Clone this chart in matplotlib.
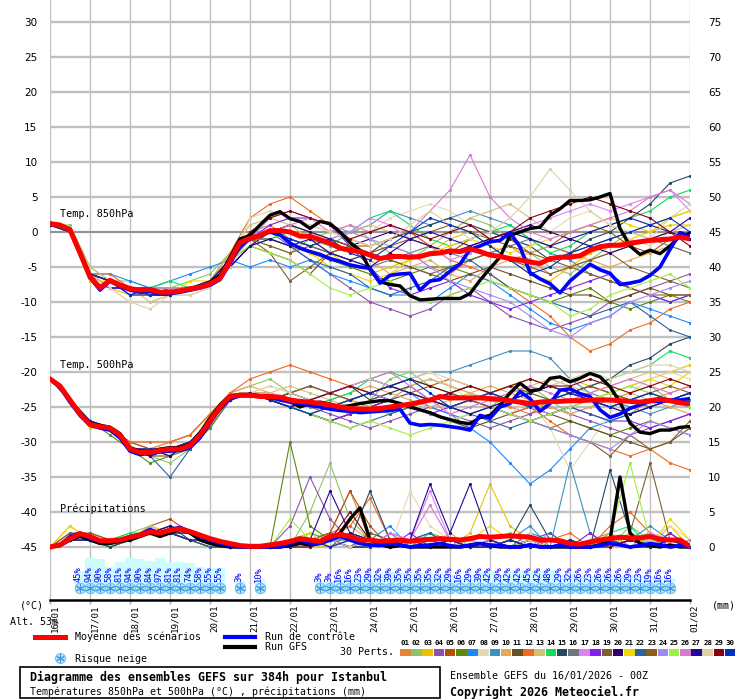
import matplotlib
matplotlib.use("Agg")
import matplotlib.pyplot as plt
from matplotlib.patches import Rectangle

plt.rcParams["axes.unicode_minus"] = False
MONO = "DejaVu Sans Mono"

# forecast hours (6h for mean / control / GFS, 12h for the perturbations)
hours6 = list(range(0, 385, 6))
hours12 = list(range(0, 385, 12))
day_hours = list(range(0, 385, 24))
day_labels = ["16/01", "17/01", "18/01", "19/01", "20/01", "21/01", "22/01", "23/01", "24/01",
              "25/01", "26/01", "27/01", "28/01", "29/01", "30/01", "31/01", "01/02"]

pert_colors = ["#e8843a", "#8cc46c", "#f0c000", "#9050b0", "#b4500c", "#5a8a08", "#1e88ff", "#e8d8b0",
               "#3f8fc0", "#e8a858", "#6a5020", "#f06a20", "#d0c078", "#10dc60", "#284860", "#6c7880",
               "#e080f8", "#8020f0", "#806030", "#300070", "#f0d800", "#2a64a0", "#905c20", "#a08cf0",
               "#a0f040", "#d878d0", "#200898", "#e0d0a8", "#880010", "#0030c0"]

t850_mean = [1.2, 1.0, 0.3, -3.0, -6.4, -8.0, -6.9, -7.6, -8.1, -8.3,
             -8.2, -8.6, -8.6, -8.4, -8.1, -7.9, -7.4, -6.6, -4.1, -1.5,
             -0.9, -0.5, 0.2, 0.2, 0.0, -0.6, -0.6, -1.1, -1.6, -2.3,
             -2.6, -2.8, -3.3, -3.8, -3.5, -3.5, -3.6, -3.5, -3.1, -3.0,
             -2.7, -2.8, -2.4, -2.8, -3.3, -3.5, -3.8, -4.0, -4.3, -4.5,
             -3.8, -3.6, -3.6, -3.4, -2.6, -2.1, -1.9, -1.9, -1.6, -1.4,
             -1.2, -1.1, -1.0, -0.7, -1.0]
t850_ctrl = [1.2, 1.0, 0.3, -3.0, -6.5, -8.3, -7.0, -7.8, -8.3, -8.6,
             -8.5, -8.8, -8.8, -8.6, -8.3, -8.0, -7.6, -6.8, -4.5, -2.0,
             -1.0, -0.5, 0.0, -0.4, -1.6, -2.3, -2.8, -3.2, -3.8, -4.2,
             -4.7, -5.0, -5.2, -7.3, -6.2, -6.0, -5.9, -8.3, -7.0, -6.8,
             -5.6, -4.6, -2.5, -2.0, -1.4, -1.2, -0.1, -2.1, -5.8, -6.7,
             -7.4, -8.7, -7.0, -5.8, -4.6, -5.4, -5.9, -7.5, -7.3, -7.0,
             -6.2, -5.0, -2.5, -0.1, -0.6]
t850_gfs = [1.2, 1.0, 0.4, -2.8, -6.2, -8.0, -7.0, -7.5, -8.0, -8.4,
            -8.4, -8.7, -8.6, -8.5, -8.2, -7.8, -7.2, -6.2, -3.6, -1.0,
            -0.5, 1.0, 2.4, 2.9, 1.9, 1.5, 0.5, 1.5, 1.2, 0.0,
            -1.5, -2.6, -5.4, -7.1, -7.5, -7.7, -9.1, -9.7, -9.6, -9.5,
            -9.5, -9.5, -8.8, -6.9, -5.2, -3.6, -0.5, 0.0, 0.5, 0.7,
            2.4, 3.3, 4.5, 4.5, 4.6, 5.0, 5.5, 0.5, -2.0, -3.2,
            -2.6, -3.1, -2.0, -0.6, -0.2]

t500_mean = [-21.0, -22.0, -24.0, -26.0, -27.5, -27.8, -28.0, -29.0, -31.0, -31.5,
             -31.5, -31.2, -31.0, -31.0, -30.5, -29.0, -27.0, -25.0, -23.5, -23.3,
             -23.3, -23.5, -23.5, -23.6, -24.0, -24.2, -24.3, -24.5, -24.7, -25.0,
             -25.2, -25.3, -25.3, -25.2, -25.0, -24.8, -24.6, -24.3, -24.0, -23.5,
             -23.7, -23.7, -23.7, -23.7, -23.8, -23.9, -24.1, -24.3, -24.5, -24.3,
             -24.2, -24.2, -24.1, -24.1, -24.0, -24.0, -24.0, -24.1, -24.2, -24.3,
             -24.1, -23.9, -24.1, -24.4, -24.5]
t500_ctrl = [-21.0, -22.2, -24.3, -26.2, -27.6, -28.0, -28.3, -29.4, -31.3, -31.8,
             -31.6, -31.4, -31.3, -31.2, -30.8, -29.4, -27.3, -25.2, -23.8, -23.4,
             -23.4, -23.5, -23.6, -24.0, -24.3, -24.5, -24.8, -25.0, -25.3, -25.5,
             -25.6, -25.8, -25.7, -25.6, -25.5, -25.3, -27.3, -27.6, -27.5, -27.6,
             -27.8, -28.0, -28.3, -26.2, -26.6, -25.0, -24.5, -22.8, -23.8, -25.6,
             -24.5, -22.6, -22.4, -23.1, -23.5, -25.4, -26.5, -26.0, -25.2, -24.7,
             -24.2, -24.2, -24.0, -24.0, -23.8]
t500_gfs = [-21.0, -22.1, -24.1, -25.8, -27.3, -27.6, -27.9, -28.8, -30.8, -31.3,
            -31.4, -31.0, -30.8, -30.8, -30.3, -28.7, -26.6, -24.7, -23.4, -23.2,
            -23.2, -23.4, -23.5, -23.8, -24.2, -25.0, -24.5, -24.3, -24.6, -25.0,
            -24.8, -24.5, -24.3, -24.1, -24.1, -24.5, -25.0, -25.4, -25.8, -26.4,
            -26.8, -27.2, -27.4, -26.5, -26.2, -24.8, -23.0, -21.6, -22.7, -22.5,
            -20.9, -20.7, -21.4, -20.9, -20.2, -20.7, -22.1, -24.3, -27.3, -28.6,
            -28.8, -28.3, -28.3, -27.9, -27.8]

rr_mean = [0.0, 0.3, 1.2, 1.9, 1.5, 0.9, 0.9, 1.0, 1.4, 1.7,
           2.2, 2.0, 2.4, 2.6, 2.2, 1.7, 1.2, 0.8, 0.5, 0.2,
           0.1, 0.1, 0.3, 0.5, 0.8, 1.2, 1.0, 0.8, 1.5, 1.8,
           1.5, 1.0, 1.0, 0.8, 0.9, 1.0, 0.8, 1.0, 1.1, 1.2,
           1.1, 1.0, 1.2, 1.5, 1.4, 1.5, 1.6, 1.5, 1.4, 1.0,
           1.0, 0.9, 0.5, 0.4, 0.7, 1.0, 1.2, 1.4, 1.3, 1.3,
           1.5, 1.1, 1.0, 1.0, 0.1]
rr_ctrl = [0.0, 0.3, 1.5, 2.0, 1.2, 0.8, 0.8, 1.0, 1.5, 1.8,
           2.5, 2.0, 2.5, 2.8, 2.2, 1.5, 1.0, 0.5, 0.2, 0.0,
           0.0, 0.0, 0.0, 0.0, 0.5, 1.0, 0.5, 0.5, 1.0, 1.5,
           1.0, 0.5, 0.3, 0.2, 0.5, 0.3, 0.0, 0.2, 0.3, 0.5,
           0.2, 0.0, 0.3, 0.5, 0.3, 0.2, 0.0, 0.0, 0.3, 0.0,
           0.0, 0.2, 0.0, 0.0, 0.0, 0.2, 0.5, 0.3, 0.0, 0.2,
           0.5, 0.3, 0.0, 0.2, 0.0]
rr_gfs = [0.0, 0.2, 1.0, 1.5, 1.0, 0.5, 0.5, 0.8, 1.0, 1.5,
          2.0, 1.5, 2.0, 2.5, 2.0, 1.0, 0.5, 0.2, 0.0, 0.0,
          0.0, 0.0, 0.0, 0.0, 0.2, 0.5, 0.3, 0.5, 1.0, 2.0,
          4.0, 5.6, 1.0, 0.3, 0.0, 0.2, 0.0, 0.0, 0.0, 0.0,
          0.0, 0.0, 0.2, 0.5, 0.2, 0.0, 0.0, 0.0, 0.3, 0.0,
          0.0, 0.0, 0.0, 0.0, 0.0, 0.3, 1.0, 10.0, 2.0, 0.5,
          0.2, 0.0, 0.3, 0.0, 0.0]

# snow risk (%) every 6h
snow_pct = [0, 0, 0, 45, 94, 90, 58, 81, 94, 90, 84, 97, 81, 81, 74, 58, 55, 55, 0, 3, 0, 10,
            0, 0, 0, 0, 0, 3, 3, 16, 16, 23, 29, 32, 39, 35, 35, 35, 35, 32, 29, 16, 29, 39, 42,
            29, 42, 42, 45, 42, 48, 29, 32, 26, 23, 26, 26, 26, 29, 23, 19, 16, 16, 0, 0]

t850_perts = [
    [1, 0, -6, -7, -8, -9, -9, -8, -7, -3, 0, 1, -1, -2, -3, -4, -3, -2, -3, -5, -6, -4, -3, -2, -4, -6, -5, -4, -3, -2, -1, 0, 1],
    [1, 1, -5, -7, -7, -8, -8, -7, -6, -3, -1, -2, -3, -1, 0, 1, -1, -3, -4, -2, 0, 2, 1, -1, -3, -5, -6, -4, -2, 0, 1, 2, 3],
    [1, 0, -6, -8, -9, -9, -9, -8, -7, -4, -1, 0, 1, -1, -3, -5, -6, -5, -4, -3, -1, 0, -2, -4, -6, -7, -5, -3, -2, -1, 0, 1, 1],
    [1, 0, -7, -8, -8, -9, -9, -8, -7, -4, -1, 0, -2, -4, -6, -8, -10, -11, -12, -11, -9, -8, -10, -12, -13, -14, -13, -12, -10, -9, -8, -7, -6],
    [1, 0, -6, -7, -8, -8, -9, -8, -7, -4, -1, 0, 1, 0, -1, -2, -2, -1, 0, -2, -3, -1, 0, -1, -3, -2, 0, 1, 0, -2, -3, -1, 0],
    [1, 0, -6, -7, -8, -9, -8, -8, -7, -4, -1, -1, -2, -3, -4, -5, -6, -7, -6, -5, -5, -6, -7, -8, -9, -10, -9, -8, -10, -11, -10, -9, -10],
    [1, 0, -6, -6, -7, -8, -7, -6, -5, -4, -5, -4, -5, -4, -6, -7, -8, -9, -9, -10, -8, -6, -7, -9, -11, -13, -14, -13, -12, -10, -11, -12, -13],
    [1, 0, -6, -8, -10, -10, -9, -9, -8, -5, -1, 1, 2, 1, 0, -1, 0, 2, 3, 4, 3, 1, 0, -1, -2, 0, 2, 3, 1, -1, -2, 0, 1],
    [1, 0, -6, -7, -8, -8, -8, -8, -7, -4, -1, 0, -1, -2, -1, 0, 1, 3, 2, 1, 2, 3, 2, 1, -1, -3, -4, -6, -7, -8, -9, -10, -9],
    [1, 0, -6, -7, -9, -9, -9, -8, -7, -4, -2, -1, 0, -1, -2, -3, -4, -6, -5, -4, -6, -7, -5, -4, -3, -2, -3, -4, -5, -4, -3, -2, -3],
    [1, 0, -6, -7, -8, -8, -9, -8, -7, -5, -2, -3, -4, -6, -3, -2, -3, -4, -5, -6, -7, -6, -5, -6, -7, -8, -9, -9, -10, -9, -8, -9, -9],
    [1, 0, -6, -6, -8, -8, -9, -8, -7, -3, 2, 4, 5, 3, 1, -1, -2, -1, 0, -2, -4, -5, -6, -8, -10, -12, -15, -17, -16, -14, -13, -11, -10],
    [1, 0, -5, -7, -8, -10, -9, -8, -7, -3, 1, 2, 1, 0, -1, 0, 1, 0, -1, -2, 0, 2, 3, 4, 2, 0, -1, -2, -1, 0, 1, 2, 3],
    [1, 0, -6, -7, -8, -8, -7, -8, -7, -4, -2, -1, 0, -1, -2, 0, 2, 3, 1, -1, -2, -1, 0, 1, -1, -3, -2, 0, 1, 2, 3, 5, 6],
    [1, 0, -6, -7, -8, -8, -9, -8, -7, -4, -1, 0, -1, -2, -3, -4, -3, -1, 0, 1, 2, 1, 0, -1, -2, -4, -3, -1, 0, 2, 4, 7, 8],
    [1, 0, -6, -7, -8, -9, -8, -8, -7, -4, -1, 0, -1, -2, -3, -4, -5, -4, -3, -2, -3, -4, -3, -2, -1, -2, -3, -2, -1, 0, -1, -2, -3],
    [1, 0, -6, -7, -8, -8, -8, -8, -7, -4, -1, 0, 0, -1, -1, 0, 2, 1, -1, -2, -4, -3, -1, 0, 1, 2, 3, 4, 3, 4, 5, 6, 3],
    [1, 0, -7, -8, -8, -9, -9, -8, -7, -4, -1, 1, 2, 2, 1, -2, -5, -8, -9, -8, -7, -9, -10, -11, -10, -9, -8, -7, -6, -8, -9, -10, -9],
    [1, 0, -6, -7, -8, -8, -9, -8, -7, -4, -1, -3, -7, -5, -3, -2, -3, -4, -5, -6, -5, -4, -3, -4, -5, -6, -5, -4, -3, -5, -6, -7, -8],
    [1, 0, -6, -8, -8, -9, -9, -8, -7, -5, -2, 0, 1, 0, -1, -2, -1, 0, -1, -2, -3, -2, -1, 0, 1, 0, -1, -2, -3, -2, -1, 0, -1],
    [1, 0, -7, -7, -8, -8, -9, -7, -7, -4, -1, -1, -2, -3, -5, -6, -7, -6, -4, -3, -2, -1, -2, -3, -2, -1, 0, 1, 2, 1, 0, 2, 3],
    [1, 0, -6, -7, -8, -8, -8, -8, -7, -4, -1, -1, -2, -4, -5, -6, -8, -9, -8, -7, -5, -4, -6, -8, -9, -10, -11, -12, -11, -10, -12, -14, -15],
    [1, 0, -6, -7, -8, -9, -8, -8, -7, -4, -1, -2, -3, -2, -1, -2, -3, -2, -1, 0, 1, 0, -1, -2, -3, -4, -5, -6, -7, -8, -9, -9, -9],
    [1, 0, -6, -7, -8, -8, -8, -8, -7, -4, -1, 2, 3, 2, 1, 0, -1, -2, -3, -5, -7, -8, -9, -10, -12, -14, -15, -13, -12, -10, -9, -8, -7],
    [1, 0, -6, -7, -8, -8, -8, -8, -7, -4, -2, -3, -4, -6, -8, -9, -8, -7, -9, -10, -9, -8, -7, -8, -9, -10, -12, -11, -9, -8, -7, -6, -8],
    [1, 0, -6, -7, -8, -8, -8, -8, -7, -4, -1, 0, 1, 2, 0, 1, 0, 1, 0, 3, 6, 11, 5, 2, 0, -1, 0, 1, 2, 3, 5, 6, 4],
    [1, 0, -6, -7, -9, -8, -9, -8, -7, -5, -2, -1, -2, -1, -3, -4, -5, -3, -1, 0, -1, -2, -1, 0, -1, -2, -1, 0, 1, 2, 1, 0, 2],
    [1, 0, -6, -8, -10, -11, -9, -9, -8, -5, 2, 3, 2, 1, 0, -1, -2, -1, 1, 3, 1, -1, 0, 2, 5, 9, 6, 3, 1, 0, -1, 2, 4],
    [1, 0, -6, -7, -8, -8, -9, -8, -7, -4, 0, 2, 3, 2, 1, -1, 0, 1, 0, -1, 0, 1, -1, 0, 2, 3, 4, 5, 4, 3, 2, 0, -2],
    [1, 0, -6, -7, -9, -9, -9, -8, -7, -4, -1, 0, -1, -2, -1, -3, -4, -2, 0, 2, 1, 0, -2, -4, -6, -5, -3, -2, -1, 0, 1, 2, 0],
]

t500_perts = [
    [-21, -24, -27, -28, -30, -31, -31, -30, -27, -24, -23, -24, -25, -24, -25, -26, -25, -24, -22, -21, -22, -23, -24, -25, -26, -24, -23, -24, -25, -26, -24, -23, -22],
    [-21, -24, -27, -28, -31, -32, -33, -31, -26, -23, -22, -21, -23, -24, -25, -26, -24, -21, -20, -22, -23, -24, -25, -23, -22, -24, -26, -25, -24, -23, -22, -24, -25],
    [-21, -24, -28, -28, -31, -31, -32, -30, -27, -24, -23, -24, -25, -26, -27, -26, -25, -24, -23, -24, -25, -26, -25, -24, -23, -22, -21, -22, -23, -22, -21, -20, -19],
    [-21, -24, -27, -28, -31, -32, -31, -30, -28, -24, -23, -23, -24, -25, -26, -27, -28, -27, -26, -25, -26, -27, -28, -27, -26, -25, -26, -27, -28, -29, -28, -27, -26],
    [-21, -24, -27, -28, -30, -31, -30, -29, -26, -24, -23, -24, -23, -22, -23, -24, -25, -24, -23, -22, -21, -22, -23, -24, -25, -24, -23, -22, -23, -24, -25, -24, -23],
    [-21, -24, -27, -29, -31, -33, -32, -31, -28, -24, -23, -24, -25, -26, -25, -24, -23, -22, -23, -24, -25, -24, -25, -26, -27, -28, -27, -28, -29, -28, -27, -28, -29],
    [-21, -24, -27, -28, -31, -31, -31, -30, -27, -24, -23, -24, -25, -26, -27, -26, -25, -24, -23, -25, -26, -28, -30, -33, -36, -34, -31, -28, -27, -26, -25, -24, -25],
    [-21, -24, -27, -28, -31, -32, -31, -30, -27, -24, -23, -22, -23, -24, -25, -24, -23, -22, -21, -20, -22, -24, -25, -26, -24, -28, -34, -30, -26, -23, -21, -20, -21],
    [-21, -24, -27, -28, -31, -31, -31, -30, -27, -24, -23, -24, -23, -22, -23, -24, -23, -22, -21, -20, -20, -19, -18, -17, -17, -18, -21, -23, -24, -25, -26, -25, -24],
    [-21, -24, -27, -28, -31, -31, -30, -29, -26, -23, -22, -23, -24, -25, -24, -23, -22, -23, -24, -25, -24, -23, -22, -23, -24, -25, -26, -25, -24, -23, -24, -25, -26],
    [-21, -24, -27, -28, -31, -32, -32, -30, -27, -24, -23, -24, -25, -26, -27, -26, -25, -24, -25, -26, -27, -28, -27, -26, -25, -26, -27, -28, -29, -30, -31, -30, -28],
    [-21, -24, -27, -28, -30, -30, -30, -29, -26, -23, -21, -20, -19, -20, -21, -22, -23, -24, -25, -24, -23, -24, -25, -26, -25, -27, -29, -30, -31, -32, -31, -33, -34],
    [-21, -24, -27, -28, -31, -31, -31, -30, -27, -24, -23, -23, -22, -23, -24, -25, -24, -23, -22, -21, -22, -23, -24, -23, -22, -21, -22, -23, -22, -21, -20, -21, -22],
    [-21, -24, -27, -28, -31, -31, -31, -30, -27, -24, -23, -24, -24, -25, -24, -23, -21, -20, -21, -22, -23, -24, -23, -22, -23, -24, -23, -22, -21, -20, -19, -17, -18],
    [-21, -24, -27, -28, -31, -32, -31, -30, -27, -24, -23, -24, -25, -24, -23, -22, -24, -23, -22, -24, -25, -24, -23, -22, -21, -22, -23, -22, -21, -19, -18, -16, -15],
    [-21, -24, -27, -28, -31, -31, -31, -30, -27, -24, -23, -24, -25, -26, -25, -24, -25, -26, -25, -24, -25, -26, -25, -24, -25, -26, -25, -24, -23, -24, -25, -24, -25],
    [-21, -24, -27, -28, -31, -31, -31, -30, -27, -24, -23, -24, -25, -24, -23, -22, -21, -22, -23, -24, -25, -26, -25, -24, -25, -26, -25, -24, -23, -22, -23, -24, -23],
    [-21, -24, -27, -28, -31, -32, -31, -30, -27, -24, -23, -24, -25, -26, -27, -26, -25, -24, -25, -26, -25, -24, -25, -26, -27, -26, -25, -26, -27, -27, -28, -27, -26],
    [-21, -24, -27, -28, -31, -31, -31, -30, -27, -24, -23, -24, -25, -24, -23, -22, -23, -24, -25, -24, -23, -24, -25, -26, -27, -28, -29, -30, -32, -29, -31, -30, -27],
    [-21, -24, -27, -28, -31, -31, -32, -30, -27, -24, -23, -24, -23, -24, -25, -24, -23, -24, -25, -24, -23, -22, -23, -24, -23, -22, -23, -24, -25, -24, -23, -24, -25],
    [-21, -24, -27, -28, -31, -31, -31, -30, -27, -24, -23, -24, -25, -26, -25, -24, -25, -26, -25, -24, -25, -24, -23, -22, -21, -22, -23, -24, -23, -22, -21, -22, -20],
    [-21, -24, -27, -28, -31, -32, -35, -31, -27, -24, -23, -24, -25, -26, -27, -28, -27, -26, -25, -24, -25, -26, -27, -28, -27, -26, -25, -26, -27, -26, -25, -24, -23],
    [-21, -24, -27, -28, -31, -31, -31, -30, -27, -24, -23, -24, -23, -22, -23, -24, -23, -22, -23, -24, -25, -24, -23, -22, -23, -24, -23, -22, -23, -24, -23, -22, -23],
    [-21, -24, -27, -28, -31, -31, -31, -30, -27, -24, -23, -24, -25, -24, -23, -22, -23, -24, -25, -26, -27, -26, -25, -26, -27, -28, -29, -30, -31, -29, -27, -28, -29],
    [-21, -24, -27, -28, -31, -31, -31, -30, -27, -24, -23, -24, -25, -26, -27, -28, -27, -28, -29, -28, -27, -26, -25, -26, -27, -26, -25, -24, -23, -22, -23, -24, -25],
    [-21, -24, -27, -28, -31, -31, -31, -30, -27, -24, -23, -24, -25, -24, -23, -22, -21, -20, -22, -24, -26, -25, -24, -23, -22, -23, -24, -23, -22, -21, -22, -23, -22],
    [-21, -24, -27, -28, -31, -32, -31, -30, -27, -24, -23, -24, -25, -24, -23, -22, -21, -22, -23, -24, -25, -26, -25, -24, -23, -22, -23, -24, -25, -26, -25, -24, -23],
    [-21, -24, -27, -28, -31, -31, -31, -30, -27, -24, -23, -22, -23, -24, -23, -22, -21, -22, -21, -20, -21, -22, -23, -22, -21, -22, -21, -20, -21, -20, -19, -19, -20],
    [-21, -24, -27, -28, -31, -31, -31, -30, -27, -24, -23, -24, -25, -24, -23, -22, -23, -22, -21, -22, -23, -22, -23, -22, -21, -22, -22, -21, -22, -23, -22, -21, -22],
    [-21, -24, -27, -28, -31, -31, -31, -30, -27, -24, -23, -24, -25, -26, -25, -24, -23, -22, -21, -23, -25, -24, -23, -24, -25, -24, -23, -24, -25, -24, -23, -24, -23],
]

rr_perts = [
    [0, 1, 1, 0, 1, 2, 2, 1, 1, 0, 0, 0, 1, 0, 2, 8, 1, 0, 0, 1, 0, 0, 0, 1, 0, 0, 0, 1, 2, 0, 0, 1, 0],
    [0, 2, 1, 1, 2, 3, 2, 1, 0, 0, 0, 0, 0, 5, 12, 4, 1, 0, 1, 0, 0, 0, 1, 2, 0, 0, 0, 1, 0, 3, 1, 0, 0],
    [0, 3, 1, 1, 1, 2, 3, 2, 1, 0, 0, 0, 1, 0, 0, 1, 2, 1, 0, 0, 0, 2, 9, 3, 1, 0, 0, 1, 0, 1, 0, 3, 0],
    [0, 1, 2, 1, 1, 2, 2, 1, 1, 0, 0, 0, 3, 10, 4, 1, 0, 0, 1, 2, 0, 1, 0, 0, 1, 0, 0, 1, 0, 2, 1, 1, 0],
    [0, 1, 1, 1, 1, 3, 4, 2, 1, 0, 0, 0, 0, 1, 2, 8, 3, 0, 0, 1, 0, 0, 0, 0, 1, 0, 1, 0, 2, 0, 1, 0, 0],
    [0, 1, 1, 0, 1, 2, 2, 1, 0, 0, 0, 0, 15, 3, 1, 0, 0, 1, 0, 0, 0, 1, 0, 0, 0, 1, 0, 0, 0, 1, 2, 0, 0],
    [0, 1, 1, 1, 1, 2, 2, 1, 1, 0, 0, 0, 0, 0, 1, 2, 1, 3, 0, 1, 0, 0, 1, 0, 2, 1, 0, 0, 1, 0, 0, 1, 0],
    [0, 2, 1, 1, 1, 2, 3, 2, 1, 0, 0, 0, 0, 1, 0, 2, 1, 0, 8, 3, 1, 0, 0, 1, 2, 0, 1, 0, 0, 2, 1, 3, 1],
    [0, 1, 1, 0, 1, 2, 2, 1, 1, 0, 0, 0, 0, 0, 1, 1, 0, 2, 0, 1, 0, 1, 0, 1, 3, 0, 12, 2, 0, 1, 3, 1, 0],
    [0, 1, 2, 1, 1, 2, 3, 2, 1, 0, 0, 0, 0, 2, 1, 3, 1, 0, 1, 0, 2, 0, 1, 0, 0, 1, 0, 0, 2, 0, 1, 0, 1],
    [0, 1, 1, 1, 1, 2, 2, 1, 0, 0, 0, 0, 1, 0, 1, 0, 2, 1, 0, 0, 1, 0, 0, 1, 0, 0, 1, 0, 0, 1, 0, 2, 0],
    [0, 2, 1, 1, 1, 2, 2, 2, 1, 0, 0, 0, 0, 1, 2, 3, 7, 1, 0, 1, 0, 0, 1, 0, 0, 1, 2, 0, 3, 5, 2, 1, 0],
    [0, 1, 1, 1, 1, 3, 2, 1, 1, 0, 0, 0, 0, 0, 1, 2, 1, 0, 0, 1, 0, 1, 0, 0, 1, 0, 0, 1, 0, 0, 1, 0, 0],
    [0, 1, 1, 1, 2, 2, 2, 1, 1, 0, 0, 0, 1, 2, 1, 0, 0, 1, 0, 2, 1, 0, 0, 1, 0, 0, 1, 0, 2, 3, 0, 1, 0],
    [0, 1, 1, 0, 1, 2, 3, 1, 1, 0, 0, 0, 0, 1, 0, 1, 8, 1, 0, 0, 1, 0, 0, 1, 6, 1, 0, 0, 11, 2, 0, 1, 0],
    [0, 1, 1, 1, 1, 2, 2, 1, 1, 0, 0, 0, 0, 0, 1, 0, 1, 0, 0, 1, 0, 0, 1, 0, 0, 0, 1, 0, 0, 1, 0, 0, 0],
    [0, 1, 1, 1, 1, 2, 3, 2, 1, 0, 0, 0, 0, 1, 0, 1, 0, 2, 1, 8, 1, 0, 0, 1, 0, 2, 0, 1, 0, 0, 2, 1, 0],
    [0, 1, 1, 1, 1, 2, 2, 1, 1, 0, 0, 0, 0, 0, 1, 0, 1, 0, 2, 0, 1, 0, 1, 0, 0, 1, 0, 2, 0, 1, 0, 2, 0],
    [0, 2, 2, 1, 1, 2, 2, 1, 1, 0, 0, 0, 0, 1, 2, 1, 0, 0, 1, 0, 0, 1, 0, 0, 1, 0, 0, 1, 0, 2, 12, 1, 0],
    [0, 1, 1, 1, 1, 2, 2, 2, 1, 0, 0, 0, 0, 0, 1, 0, 0, 1, 0, 0, 1, 0, 0, 0, 1, 0, 0, 0, 1, 0, 0, 1, 0],
    [0, 3, 1, 1, 1, 2, 2, 1, 1, 0, 0, 0, 1, 2, 0, 1, 0, 0, 1, 0, 0, 1, 3, 1, 0, 0, 1, 0, 0, 2, 0, 4, 1],
    [0, 1, 1, 1, 1, 2, 2, 1, 0, 0, 0, 0, 0, 0, 1, 0, 1, 0, 1, 2, 0, 1, 0, 0, 1, 2, 0, 0, 1, 0, 1, 0, 0],
    [0, 1, 1, 1, 1, 2, 3, 2, 1, 0, 0, 0, 0, 1, 0, 2, 1, 0, 1, 0, 1, 0, 0, 1, 0, 0, 1, 0, 1, 0, 1, 0, 0],
    [0, 1, 1, 1, 1, 2, 2, 1, 1, 0, 0, 0, 0, 1, 0, 1, 0, 1, 0, 0, 1, 0, 0, 0, 1, 0, 0, 1, 0, 0, 1, 0, 1],
    [0, 1, 1, 1, 1, 2, 2, 1, 1, 0, 0, 0, 4, 1, 0, 1, 0, 0, 1, 0, 0, 1, 0, 0, 1, 0, 1, 0, 2, 12, 1, 0, 0],
    [0, 1, 1, 1, 1, 2, 2, 1, 1, 0, 0, 0, 0, 1, 0, 1, 0, 2, 1, 6, 1, 0, 1, 0, 0, 1, 0, 0, 1, 0, 0, 1, 0],
    [0, 1, 1, 1, 1, 2, 3, 2, 1, 0, 0, 0, 0, 1, 8, 2, 1, 0, 1, 9, 2, 9, 1, 0, 1, 0, 0, 1, 0, 1, 0, 0, 0],
    [0, 1, 1, 1, 1, 2, 2, 1, 1, 0, 0, 0, 0, 0, 1, 0, 1, 0, 1, 0, 0, 1, 0, 0, 1, 0, 0, 1, 0, 0, 1, 0, 0],
    [0, 1, 1, 1, 1, 2, 2, 1, 1, 0, 0, 0, 0, 0, 1, 5, 1, 0, 1, 0, 1, 0, 0, 1, 0, 0, 1, 0, 0, 1, 0, 1, 0],
    [0, 1, 1, 1, 1, 2, 2, 1, 1, 0, 0, 0, 0, 1, 0, 1, 0, 1, 0, 0, 1, 0, 0, 1, 0, 0, 1, 0, 1, 0, 0, 1, 0],
]


def flake(axis, xs, ys, size=1.0):
    axis.scatter(xs, ys, s=58 * size, color="#b4e2f8", edgecolors="#62b4ea", linewidths=0.6, zorder=6)
    axis.scatter(xs, ys, s=36 * size, marker=(6, 2, 0), color="#3a9be0", linewidths=0.7, zorder=7)


def main() -> None:
    fig = plt.figure(figsize=(7.4, 7.0), dpi=100)

    # overlay in pixel coordinates for the legend and captions
    ov = fig.add_axes([0, 0, 1, 1])
    ov.set_xlim(0, 740)
    ov.set_ylim(700, 0)
    ov.axis("off")

    ax = fig.add_axes([50 / 740, 100 / 700, 640 / 740, 600 / 700])
    ymin, ymax = -52.57, 33.14
    ax.set_xlim(0, 384)
    ax.set_ylim(ymin, ymax)
    ax2 = ax.twinx()
    ax2.set_ylim(ymin + 45, ymax + 45)

    ax.set_xticks(day_hours)
    ax.set_xticklabels(day_labels, rotation=90, ha="left", family=MONO, fontsize=6.6)
    ax.set_yticks(range(-45, 31, 5))
    ax2.set_yticks(range(0, 76, 5))
    ax.set_axisbelow(True)
    ax.xaxis.grid(True, color="#c0c0c0", lw=1.0)
    ax.yaxis.grid(True, color="#c0c0c0", lw=1.7)
    ax.axhline(0, color="#8c8c8c", lw=1.2, zorder=1)
    ax.tick_params(axis="y", length=0, pad=9, labelsize=7.5)
    ax2.tick_params(axis="y", length=0, pad=13, labelsize=7.5)
    ax.tick_params(axis="x", length=3, width=1, color="#b0b0b0", pad=0.5)
    for s in ["top", "left", "right"]:
        ax.spines[s].set_visible(False)
    for s in ax2.spines.values():
        s.set_visible(False)
    ax.spines["bottom"].set_linewidth(1.8)

    # perturbations
    for i in range(30):
        kw = dict(color=pert_colors[i], lw=0.8, marker=".", ms=2.5, zorder=2)
        ax.plot(hours12, t850_perts[i], **kw)
        ax.plot(hours12, t500_perts[i], **kw)
        ax2.plot(hours12, rr_perts[i], **kw)

    for axis, gfs, ctrl, mean in [(ax, t850_gfs, t850_ctrl, t850_mean),
                                  (ax, t500_gfs, t500_ctrl, t500_mean),
                                  (ax2, rr_gfs, rr_ctrl, rr_mean)]:
        axis.plot(hours6, gfs, color="black", lw=2.4, zorder=4)
        axis.plot(hours6, ctrl, color="#0000ff", lw=2.6, zorder=5)
        axis.plot(hours6, mean, color="#ff0000", lw=3.6, zorder=6)

    ax.text(6, 2.6, "Temp. 850hPa", family=MONO, fontsize=7.3, va="center")
    ax.text(6, -19.0, "Temp. 500hPa", family=MONO, fontsize=7.3, va="center")
    ax.text(6, -39.6, "Précipitations", family=MONO, fontsize=7.3, va="center")

    # snow risk band
    snow_h = [h for h, p in zip(hours6, snow_pct) if p > 0]
    snow_p = [p for p in snow_pct if p > 0]
    ax.bar(snow_h, [(10 + 0.25 * p) / 7 for p in snow_p], width=6, bottom=-51.4,
           color="#ccfcff", lw=0, zorder=1.5)
    flake(ax, snow_h, [-50.86] * len(snow_h))
    for h, p in zip(snow_h, snow_p):
        ax.text(h - 0.9, -50.0, f"{p}%", rotation=90, ha="center", va="bottom",
                family=MONO, fontsize=6.3, color="#0000ff", zorder=8)

    # axis captions
    ov.text(20, 606, "(°C)", family=MONO, fontsize=7.2, va="center")
    ov.text(10, 622, "Alt. 53m", family=MONO, fontsize=7.2, va="center")
    ov.text(712, 606, "(mm)", family=MONO, fontsize=7.2, va="center")

    # legend
    ov.plot([35, 65], [637, 637], color="#ff0000", lw=3.6)
    ov.text(75, 637, "Moyenne des scénarios", family=MONO, fontsize=7.2, va="center")
    ov.plot([225, 255], [637, 637], color="#0000ff", lw=3.0)
    ov.text(265, 637, "Run de contrôle", family=MONO, fontsize=7.2, va="center")
    ov.plot([225, 255], [647, 647], color="black", lw=3.0)
    ov.text(265, 647, "Run GFS", family=MONO, fontsize=7.2, va="center")
    flake(ov, [60], [658], size=0.9)
    ov.text(75, 659, "Risque neige", family=MONO, fontsize=7.2, va="center")
    ov.text(340, 652, "30 Perts.", family=MONO, fontsize=7.2, va="center")
    for i, c in enumerate(pert_colors):
        x0 = 400 + i * 11.2
        ov.add_patch(Rectangle((x0, 649), 10.5, 7, color=c, lw=0))
        ov.text(x0 + 5.3, 643, f"{i + 1:02d}", family=MONO, fontsize=5.3,
                weight="bold", ha="center", va="center")

    # title box
    ov.add_patch(Rectangle((20, 667), 420, 31, fill=False, ec="black", lw=1.2))
    ov.text(30, 677, "Diagramme des ensembles GEFS sur 384h pour Istanbul",
            family=MONO, fontsize=8.4, weight="bold", va="center")
    ov.text(30, 692, "Températures 850hPa et 500hPa (°C) , précipitations (mm)",
            family=MONO, fontsize=7.1, va="center")
    ov.text(450, 676, "Ensemble GEFS du 16/01/2026 - 00Z", family=MONO, fontsize=7.2, va="center")
    ov.text(450, 692, "Copyright 2026 Meteociel.fr", family=MONO, fontsize=8.4,
            weight="bold", va="center")

    fig.savefig("out.png", dpi=100)
    plt.close(fig)


if __name__ == "__main__":
    main()
